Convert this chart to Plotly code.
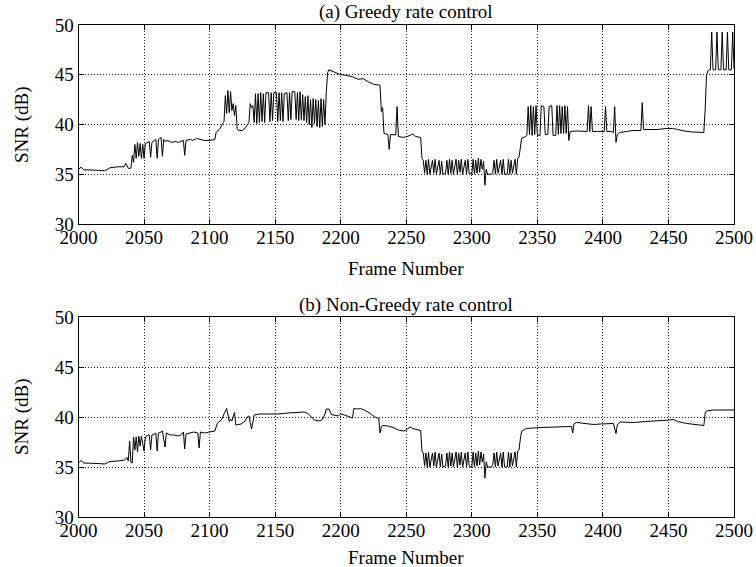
import plotly.graph_objects as go

# ---------------- data ----------------
frame_ticks = [2000, 2050, 2100, 2150, 2200, 2250, 2300, 2350, 2400, 2450, 2500]
snr_ticks = [30, 35, 40, 45, 50]

# Greedy rate control, frames 2000-2261
greedy_a_frames = [2000, 2002, 2004, 2010, 2015, 2020, 2024, 2030, 2035, 2036, 2038, 2040, 2041, 2042, 2043, 2044,
                   2045, 2046, 2047, 2048, 2049, 2050, 2051, 2053, 2054, 2055, 2056, 2058, 2059, 2060, 2061, 2062,
                   2063, 2064, 2065, 2066, 2068, 2071, 2074, 2076, 2078, 2080, 2081, 2082, 2085, 2087, 2090, 2093,
                   2096, 2100, 2104,
                   2105, 2108, 2110, 2111, 2112, 2113, 2114, 2115, 2116, 2117, 2118, 2119, 2120, 2121, 2122, 2125,
                   2127, 2129, 2130, 2131, 2132, 2133, 2134,
                   2135, 2136, 2137, 2138, 2139, 2140, 2141, 2142, 2143, 2145, 2146, 2147, 2148, 2149, 2151, 2152,
                   2153, 2154, 2155, 2156, 2157, 2159, 2160, 2161, 2162, 2163, 2165, 2166, 2167, 2168, 2169, 2170,
                   2171, 2172, 2173, 2174, 2175, 2176, 2177, 2178, 2179, 2180, 2181, 2182, 2183, 2184, 2185, 2186,
                   2187, 2188,
                   2189, 2190, 2191, 2193, 2196, 2199, 2204, 2209, 2213, 2217, 2221, 2225, 2230, 2231, 2232, 2233,
                   2236, 2237, 2238, 2242, 2243, 2244, 2248, 2250, 2253, 2255, 2257, 2261]
greedy_a_snr = [35.5, 35.7, 35.45, 35.45, 35.4, 35.35, 35.65, 35.75, 35.75, 36.1, 35.6, 35.6, 36.9, 36.2, 38.0, 36.6,
                38.2, 36.8, 38.1, 36.6, 38.0, 36.6, 38.1, 38.2, 38.3, 36.7, 38.2, 38.4, 38.5, 36.6, 38.5, 38.6,
                38.7, 36.8, 38.5, 38.3, 38.4, 38.2, 38.3, 38.2, 38.3, 38.4, 36.9, 38.4, 38.5, 38.4, 38.6, 38.5,
                38.4, 38.4, 38.5,
                39.2, 39.6, 40.1, 40.3, 42.9, 41.1, 43.4, 41.2, 43.3, 41.4, 42.1, 40.9, 41.9, 39.6, 39.4, 39.4,
                39.6, 40.1, 40.2, 42.1, 41.7, 41.9, 40.2,
                43.1, 40.1, 43.1, 40.2, 43.2, 40.3, 43.1, 40.2, 43.2, 43.2, 40.3, 43.2, 40.4, 43.2, 43.2, 40.3,
                43.2, 40.4, 43.2, 40.3, 43.1, 43.2, 40.4, 43.2, 40.5, 43.3, 43.3, 40.5, 43.2, 40.4, 43.3, 40.5,
                43.0, 40.4, 42.8, 40.2, 42.9, 40.0, 42.5, 39.7, 42.6, 40.1, 42.5, 39.8, 42.4, 39.7, 42.6, 39.8,
                42.5, 40.0,
                43.2, 45.2, 45.5, 45.4, 45.2, 45.05, 44.95, 44.8, 44.55, 44.6, 44.3, 44.05, 43.95, 41.3, 41.7, 39.1,
                39.0, 37.5, 39.0, 38.95, 41.8, 38.8, 38.7, 38.75, 38.9, 39.05, 38.8, 38.7]

# Common low-quality stretch (both controllers), frames 2262-2336
dip_frames = [2262, 2263, 2264, 2265, 2266, 2267, 2268, 2270, 2271, 2272, 2273, 2275, 2276, 2277, 2278, 2280,
              2281, 2282, 2283, 2284, 2285, 2286, 2288, 2289, 2290, 2291, 2292, 2293, 2295, 2296, 2297, 2298,
              2300, 2301, 2302, 2303, 2304, 2305, 2306, 2307, 2308, 2309, 2310, 2311, 2312, 2315, 2316, 2317,
              2318, 2319, 2320, 2322, 2323, 2324, 2325, 2327, 2328, 2329, 2330, 2331, 2333, 2334, 2335, 2336]
dip_snr = [36.6, 36.4, 35.1, 36.4, 35.0, 36.5, 35.0, 36.4, 35.1, 36.5, 35.0, 36.4, 35.0, 36.3, 35.0, 35.1,
           36.4, 35.0, 36.5, 35.1, 36.4, 35.0, 36.5, 35.0, 36.4, 35.2, 36.5, 35.0, 36.4, 35.0, 36.5, 35.1,
           35.0, 36.5, 35.0, 36.4, 35.1, 36.6, 35.2, 36.5, 35.5, 36.3, 33.9, 35.5, 35.0, 35.0, 35.2, 36.4,
           35.0, 36.5, 35.1, 36.4, 35.0, 36.5, 35.0, 35.0, 36.5, 35.0, 36.4, 35.1, 36.5, 35.0, 36.6, 36.7]

# Greedy rate control, frames 2337-2500
greedy_b_frames = [2337, 2338, 2341, 2342, 2343, 2344, 2345, 2346, 2347, 2348, 2349, 2350, 2352, 2353, 2355, 2356,
                   2358, 2359, 2361, 2362, 2364, 2365, 2366, 2367, 2368, 2369, 2370, 2371, 2372, 2373, 2374, 2375,
                   2380, 2385, 2388, 2389, 2390, 2391, 2392, 2396, 2401, 2402, 2403, 2406, 2408, 2409, 2410, 2411,
                   2413, 2418, 2423, 2429, 2430, 2431, 2436, 2442, 2448, 2453, 2457, 2462, 2468, 2477,
                   2478, 2479, 2480, 2482, 2483, 2484, 2486, 2487, 2488, 2490, 2491, 2492, 2494, 2495, 2496, 2498,
                   2499, 2500]
greedy_b_snr = [37.9, 38.6, 38.8, 38.9, 41.8, 39.0, 41.9, 38.9, 41.8, 39.0, 41.9, 38.9, 38.9, 41.9, 41.8, 39.0,
                39.0, 41.8, 41.9, 38.9, 38.9, 41.9, 39.0, 41.9, 39.1, 41.8, 39.1, 41.9, 39.1, 41.8, 38.4, 39.3,
                39.35, 39.3, 39.3, 41.9, 39.3, 41.8, 39.3, 39.3, 39.3, 41.8, 39.3, 39.3, 39.2, 41.8, 38.2, 39.0,
                39.2, 39.3, 39.4, 39.4, 42.2, 39.5, 39.5, 39.5, 39.6, 39.6, 39.5, 39.35, 39.25, 39.2,
                41.5, 44.9, 45.4, 45.5, 49.3, 45.5, 45.5, 49.3, 45.5, 45.5, 49.3, 45.5, 45.5, 49.3, 45.5, 45.5,
                49.3, 45.6]

# Non-greedy rate control, frames 2000-2261
nongreedy_a_frames = [2000, 2002, 2004, 2010, 2015, 2020, 2024, 2030, 2035, 2037, 2038, 2039, 2040, 2041, 2042, 2043,
                      2044, 2045, 2046, 2047, 2048, 2050, 2051, 2053, 2054, 2055, 2056, 2058, 2059, 2060, 2061, 2063,
                      2064, 2066, 2067, 2070, 2073, 2076, 2078, 2080, 2081, 2082, 2085, 2088, 2091, 2092, 2093, 2096,
                      2100, 2104,
                      2106, 2109, 2111, 2113, 2115, 2116, 2117, 2119, 2120, 2124, 2127, 2129, 2130, 2132, 2134, 2138,
                      2145, 2152, 2160, 2166, 2172, 2175, 2178, 2180, 2184, 2186, 2188, 2189, 2191, 2193, 2198, 2200,
                      2203, 2208, 2209, 2210, 2213, 2215, 2218, 2222, 2226, 2229, 2230, 2231, 2232, 2236, 2240, 2244,
                      2248, 2250, 2253, 2255, 2261]
nongreedy_a_snr = [35.4, 35.65, 35.4, 35.4, 35.35, 35.3, 35.55, 35.6, 35.7, 35.95, 35.6, 37.6, 35.5, 35.4, 38.0, 36.7,
                   38.0, 36.5, 38.1, 37.1, 38.1, 36.6, 38.0, 38.2, 38.2, 36.7, 38.2, 38.3, 38.4, 36.6, 38.4, 38.5,
                   38.6, 37.0, 38.4, 38.2, 38.2, 38.1, 38.2, 38.5, 36.8, 38.3, 38.4, 38.5, 38.4, 36.9, 38.5, 38.4,
                   38.5, 38.6,
                   39.4, 39.7, 40.3, 40.85, 39.55, 39.8, 39.6, 40.45, 39.2, 39.3, 39.6, 40.05, 40.1, 38.8, 40.2, 40.3,
                   40.3, 40.3, 40.4, 40.45, 40.5, 40.35, 40.0, 39.7, 39.6, 39.75, 40.3, 40.8, 40.8, 40.25, 40.1, 40.3,
                   40.2, 40.0, 39.9, 40.85, 40.8, 40.85, 40.7, 40.4, 40.0, 39.85, 38.4, 39.0, 39.15, 39.1, 38.95, 38.7,
                   38.6, 38.7, 39.0, 38.85, 38.65]

# Non-greedy rate control, frames 2337-2500
nongreedy_b_frames = [2337, 2338, 2340, 2342, 2352, 2362, 2372, 2376, 2377, 2378, 2380, 2388, 2393, 2398, 2408, 2410,
                      2411, 2413, 2418, 2423, 2433, 2444, 2451, 2454, 2457, 2464, 2471, 2477, 2478, 2479, 2484, 2490,
                      2495, 2500]
nongreedy_b_snr = [37.8, 38.55, 38.75, 38.85, 38.95, 39.0, 39.05, 39.05, 38.4, 39.35, 39.45, 39.3, 39.25, 39.3, 39.35, 38.35,
                   39.2, 39.5, 39.45, 39.45, 39.55, 39.6, 39.7, 39.75, 39.55, 39.35, 39.25, 39.15, 40.4, 40.6, 40.7, 40.7,
                   40.65, 40.7]

titles = ["(a) Greedy rate control", "(b) Non-Greedy rate control"]
x_label = "Frame Number"
y_label = "SNR (dB)"

assert len(greedy_a_frames) == len(greedy_a_snr)
assert len(greedy_b_frames) == len(greedy_b_snr)
assert len(dip_frames) == len(dip_snr)
assert len(nongreedy_a_frames) == len(nongreedy_a_snr)
assert len(nongreedy_b_frames) == len(nongreedy_b_snr)

greedy_x = greedy_a_frames + dip_frames + greedy_b_frames
greedy_y = greedy_a_snr + dip_snr + greedy_b_snr
nongreedy_x = nongreedy_a_frames + dip_frames + nongreedy_b_frames
nongreedy_y = nongreedy_a_snr + dip_snr + nongreedy_b_snr

# ---------------- figure ----------------
W, H = 756, 567
FONT = "Liberation Serif"
FS = 19


def px_x(p):
    return p / W


def px_y(p):
    return 1 - p / H


fig = go.Figure()
fig.add_trace(go.Scatter(x=greedy_x, y=greedy_y, mode="lines", xaxis="x", yaxis="y",
                         line=dict(color="black", width=1), hoverinfo="skip"))
fig.add_trace(go.Scatter(x=nongreedy_x, y=nongreedy_y, mode="lines", xaxis="x2", yaxis="y2",
                         line=dict(color="black", width=1), hoverinfo="skip"))

x_dom = [px_x(78.5), px_x(734)]
common = dict(showline=True, linecolor="black", linewidth=1, mirror="ticks", ticks="inside",
              ticklen=5, tickcolor="black", tickwidth=1, showgrid=True, gridcolor="#222222",
              griddash="1px,2px", gridwidth=1, zeroline=False, automargin=False,
              tickfont=dict(family=FONT, size=FS, color="black"))
xcommon = dict(common, ticklabelstandoff=-4)

fig.update_layout(
    template="none",
    font=dict(family=FONT, size=FS, color="black"),
    width=W, height=H, margin=dict(l=0, r=0, t=0, b=0, pad=0),
    paper_bgcolor="white", plot_bgcolor="white", showlegend=False,
    xaxis=dict(domain=x_dom, anchor="y", range=[2000, 2500], tickvals=frame_ticks, **xcommon),
    yaxis=dict(domain=[px_y(224), px_y(25)], anchor="x", range=[30, 50], tickvals=snr_ticks, **common),
    xaxis2=dict(domain=x_dom, anchor="y2", range=[2000, 2500], tickvals=frame_ticks, **xcommon),
    yaxis2=dict(domain=[px_y(517), px_y(317)], anchor="x2", range=[30, 50], tickvals=snr_ticks, **common),
)

cx = px_x(406)
ann = []
for title, ty, xy, yy in [(titles[0], 12, 268, 125), (titles[1], 305, 557, 417)]:
    ann.append(dict(text=title, x=cx, y=px_y(ty), xref="paper", yref="paper", showarrow=False,
                    xanchor="center", yanchor="middle", font=dict(family=FONT, size=FS, color="black")))
    ann.append(dict(text=x_label, x=cx, y=px_y(xy), xref="paper", yref="paper", showarrow=False,
                    xanchor="center", yanchor="middle", font=dict(family=FONT, size=FS, color="black")))
    ann.append(dict(text=y_label, x=px_x(22), y=px_y(yy), xref="paper", yref="paper", showarrow=False,
                    textangle=-90, xanchor="center", yanchor="middle",
                    font=dict(family=FONT, size=FS, color="black")))
fig.update_layout(annotations=ann)

fig.write_html("out.html")
